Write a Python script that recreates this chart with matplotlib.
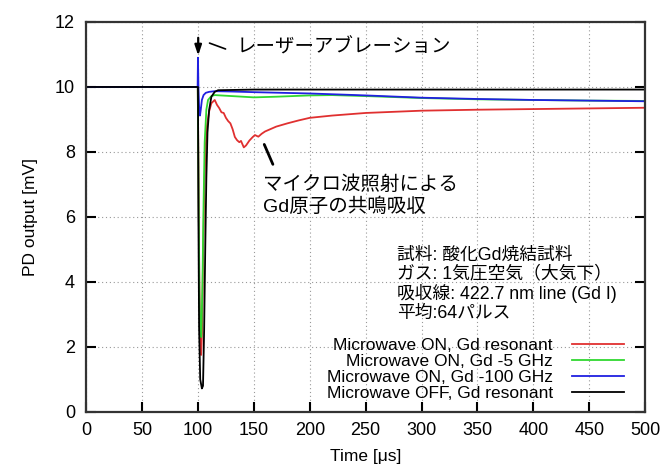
import matplotlib
matplotlib.use("Agg")
import matplotlib.pyplot as plt

plt.rcParams['font.family'] = ['Liberation Sans', 'Noto Sans CJK JP', 'DejaVu Sans']

# traces (time in us, PD output in mV)
t_red = [0, 50, 99.8, 100.5, 101.2, 102, 102.8, 103.6, 104.5, 105.5, 106.5, 108, 110, 112, 115,
         117, 119, 121, 123, 125, 127, 129, 131, 133, 135, 137, 138.5, 141, 143, 146, 149,
         151, 154, 157, 160, 170, 180, 190, 200, 220, 250, 300, 350, 400, 450, 500]
v_red = [10.0, 10.0, 10.0, 7.2, 4.0, 2.2, 1.75, 2.4, 4.6, 6.6, 7.9, 8.8, 9.25, 9.5, 9.6,
         9.45, 9.35, 9.22, 9.2, 9.05, 8.95, 8.88, 8.7, 8.46, 8.36, 8.3, 8.34, 8.14, 8.2, 8.35, 8.46,
         8.52, 8.47, 8.56, 8.63, 8.78, 8.88, 8.97, 9.05, 9.12, 9.2, 9.27, 9.3, 9.32, 9.34, 9.36]

t_green = [0, 50, 99.8, 100.5, 101.3, 102.2, 103, 104, 105, 106, 107.5, 109, 112, 115,
           130, 150, 170, 200, 220, 250, 300, 350, 400, 450, 500]
v_green = [10.0, 10.0, 10.0, 7.0, 3.6, 2.4, 2.3, 3.9, 6.4, 8.3, 9.3, 9.6, 9.72, 9.75,
           9.72, 9.68, 9.7, 9.74, 9.75, 9.72, 9.66, 9.62, 9.6, 9.58, 9.57]

t_blue = [0, 50, 99.7, 100, 100.4, 101, 101.8, 102.5, 103.5, 105, 107, 110, 115,
          130, 150, 200, 250, 300, 350, 400, 450, 500]
v_blue = [10.0, 10.0, 10.0, 10.9, 10.0, 9.4, 9.12, 9.3, 9.6, 9.75, 9.82, 9.85, 9.87,
          9.86, 9.84, 9.8, 9.74, 9.67, 9.63, 9.6, 9.58, 9.56]

t_black = [0, 50, 100, 100.4, 101, 102, 103.5, 104.5, 105.5, 106.5, 107.5, 108.5, 110, 112,
           115, 118, 150, 200, 300, 400, 500]
v_black = [10.0, 10.0, 10.0, 6.0, 2.6, 1.0, 0.72, 0.8, 2.5, 5.0, 7.2, 8.6, 9.3, 9.7,
           9.85, 9.9, 9.92, 9.92, 9.92, 9.92, 9.92]

labels = ['Microwave ON, Gd resonant', 'Microwave ON, Gd -5 GHz',
          'Microwave ON, Gd -100 GHz', 'Microwave OFF, Gd resonant']
colors = ['#e03030', '#30d830', '#2020e0', '#000000']

x_ticks = list(range(0, 501, 50))
y_ticks = list(range(0, 13, 2))

info_lines = ['試料: 酸化Gd焼結試料', 'ガス: 1気圧空気（大気下）',
              '吸収線: 422.7 nm line (Gd I)', '平均:64パルス']

fig = plt.figure(figsize=(6.63, 4.68), dpi=100)
ax = fig.add_axes([0.130, 0.120, 0.843, 0.833])

series = [(t_red, v_red), (t_green, v_green), (t_blue, v_blue), (t_black, v_black)]
for (tt, vv), lab, col in zip(series, labels, colors):
    ax.plot(tt, vv, color=col, lw=1.3, label=lab)

ax.set_xlim(0, 500)
ax.set_ylim(0, 12)
ax.set_xticks(x_ticks)
ax.set_yticks(y_ticks)
ax.grid(True, color='#999999', lw=0.8, linestyle=(0, (1, 2.5)))
ax.tick_params(direction='in', length=7, width=1.5, labelsize=13, right=True)
ax.tick_params(axis='y', pad=8)
ax.tick_params(axis='x', pad=7)
for sp in ax.spines.values():
    sp.set_linewidth(1.6)
    sp.set_color('#333333')

ax.set_xlabel('Time [μs]', fontsize=12.5)
ax.set_ylabel('PD output [mV]', fontsize=12.5)
ax.yaxis.set_label_coords(-0.086, 0.5)
ax.xaxis.set_label_coords(0.5, -0.095)

# laser ablation arrow and label
ax.annotate('', xy=(100.2, 10.88), xytext=(100.2, 11.6),
            arrowprops=dict(arrowstyle='-|>,head_length=0.6,head_width=0.2', color='black', lw=1.6))
ax.annotate('', xy=(127, 11.14), xytext=(108, 11.38),
            arrowprops=dict(arrowstyle='-', color='black', lw=1.2))
ax.text(135, 11.22, 'レーザーアブレーション', fontsize=14, va='center', ha='left')

# resonance absorption label
ax.annotate('', xy=(168, 7.54), xytext=(158.3, 8.31),
            arrowprops=dict(arrowstyle='-', color='black', lw=2.0))
ax.text(158, 6.98, 'マイクロ波照射による', fontsize=14, va='center', ha='left')
ax.text(158, 6.3, 'Gd原子の共鳴吸収', fontsize=14, va='center', ha='left')

ax.text(278, 5.08, '\n'.join(info_lines), fontsize=12.8, va='top', ha='left', linespacing=1.12)

ax.legend(loc='lower right', bbox_to_anchor=(0.9624, 0.028), frameon=False,
          markerfirst=False, fontsize=12.5, handlelength=3.0, handletextpad=1.1,
          labelspacing=0.05, borderpad=0, borderaxespad=0)

fig.savefig('out.png', dpi=100)
